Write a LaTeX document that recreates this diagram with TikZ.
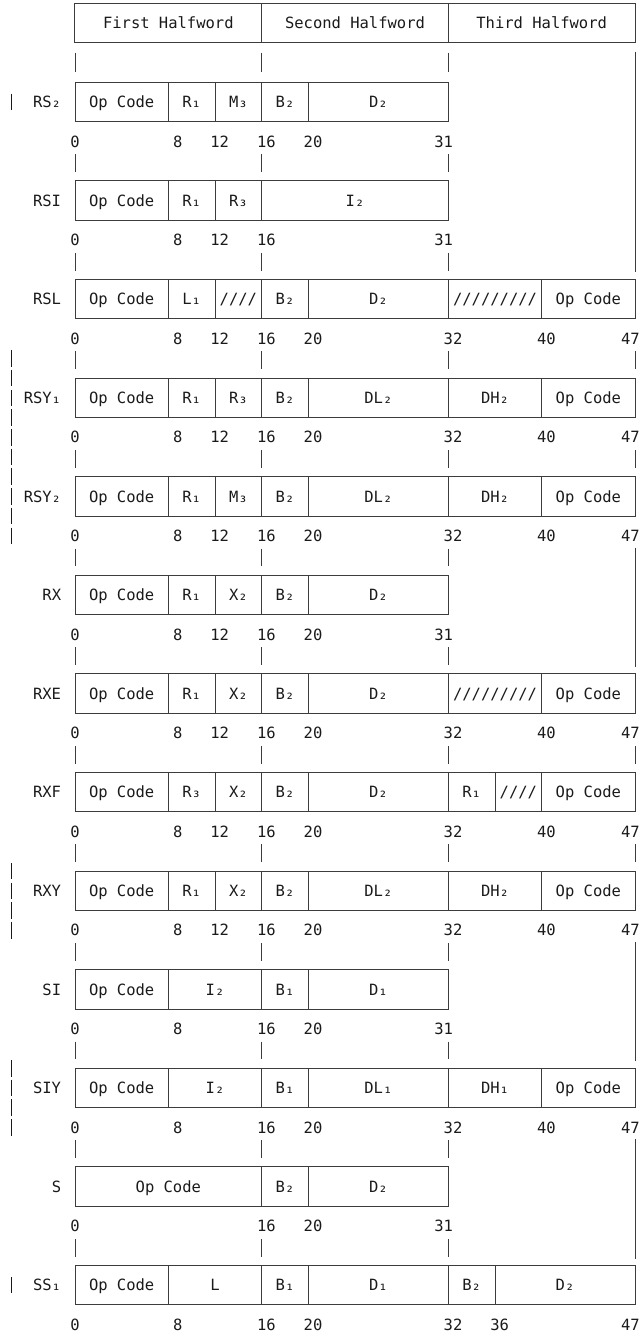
\documentclass[tikz,border=0pt]{standalone}
\usepackage{fontspec}
\setmonofont{DejaVu Sans Mono}
\usetikzlibrary{positioning}
\definecolor{ink}{HTML}{1A1A1A}
\definecolor{rule}{HTML}{3C3C3C}
\tikzset{
  every picture/.style={line width=1pt, font=\fontsize{15.5}{18}\selectfont\ttfamily},
  field/.style={draw=rule, minimum height=39.44pt, inner sep=0pt, text height=11.3pt, text depth=0pt, text=ink},
  rowname/.style={anchor=east, inner sep=0pt, text height=11.3pt, text depth=0pt, text=ink},
  bitno/.style={inner sep=0pt, text height=11.3pt, text depth=0pt, text=ink},
  tick/.style={draw=rule},
  changebar/.style={draw=ink, line width=1.1pt},
}

\begin{document}
\begin{tikzpicture}[x=11.6667pt, y=-19.72pt]
\useasboundingbox (-75pt,3.4pt) rectangle (567pt,-1336.6pt);
% halfword header
\node[field, minimum width=186.67pt] (first) at (8,1) {First Halfword};
\node[field, minimum width=186.67pt] (second) at (24,1) {Second Halfword};
\node[field, minimum width=186.67pt] (third) at (40,1) {Third Halfword};
\foreach \x in {0,16,32} \draw[tick] (\x,2.5) -- (\x,3.5);
% formats: row / name / fields (from/to/text) / bit numbers (pos/text)
\foreach \k/\lab/\fields/\nums in {
  0/RS₂/{0/8/Op Code,8/12/R₁,12/16/M₃,16/20/B₂,20/32/D₂}/{0/0,8.8/8,12.4/12,16.4/16,20.4/20,31.6/31},
  1/RSI/{0/8/Op Code,8/12/R₁,12/16/R₃,16/32/I₂}/{0/0,8.8/8,12.4/12,16.4/16,31.6/31},
  2/RSL/{0/8/Op Code,8/12/L₁,12/16/{////},16/20/B₂,20/32/D₂,32/40/{/////////},40/48/Op Code}/{0/0,8.8/8,12.4/12,16.4/16,20.4/20,32.4/32,40.4/40,47.6/47},
  3/RSY₁/{0/8/Op Code,8/12/R₁,12/16/R₃,16/20/B₂,20/32/DL₂,32/40/DH₂,40/48/Op Code}/{0/0,8.8/8,12.4/12,16.4/16,20.4/20,32.4/32,40.4/40,47.6/47},
  4/RSY₂/{0/8/Op Code,8/12/R₁,12/16/M₃,16/20/B₂,20/32/DL₂,32/40/DH₂,40/48/Op Code}/{0/0,8.8/8,12.4/12,16.4/16,20.4/20,32.4/32,40.4/40,47.6/47},
  5/RX/{0/8/Op Code,8/12/R₁,12/16/X₂,16/20/B₂,20/32/D₂}/{0/0,8.8/8,12.4/12,16.4/16,20.4/20,31.6/31},
  6/RXE/{0/8/Op Code,8/12/R₁,12/16/X₂,16/20/B₂,20/32/D₂,32/40/{/////////},40/48/Op Code}/{0/0,8.8/8,12.4/12,16.4/16,20.4/20,32.4/32,40.4/40,47.6/47},
  7/RXF/{0/8/Op Code,8/12/R₃,12/16/X₂,16/20/B₂,20/32/D₂,32/36/R₁,36/40/{////},40/48/Op Code}/{0/0,8.8/8,12.4/12,16.4/16,20.4/20,32.4/32,40.4/40,47.6/47},
  8/RXY/{0/8/Op Code,8/12/R₁,12/16/X₂,16/20/B₂,20/32/DL₂,32/40/DH₂,40/48/Op Code}/{0/0,8.8/8,12.4/12,16.4/16,20.4/20,32.4/32,40.4/40,47.6/47},
  9/SI/{0/8/Op Code,8/16/I₂,16/20/B₁,20/32/D₁}/{0/0,8.8/8,16.4/16,20.4/20,31.6/31},
  10/SIY/{0/8/Op Code,8/16/I₂,16/20/B₁,20/32/DL₁,32/40/DH₁,40/48/Op Code}/{0/0,8.8/8,16.4/16,20.4/20,32.4/32,40.4/40,47.6/47},
  11/S/{0/16/Op Code,16/20/B₂,20/32/D₂}/{0/0,16.4/16,20.4/20,31.6/31},
  12/SS₁/{0/8/Op Code,8/16/L,16/20/B₁,20/32/D₁,32/36/B₂,36/48/D₂}/{0/0,8.8/8,16.4/16,20.4/20,32.4/32,36.4/36,47.6/47}}{
  \pgfmathsetmacro{\rowy}{5+5*\k}
  \node[rowname] (lab\k) at (-1.15,\rowy) {\lab};
  \foreach \a/\b/\t in \fields
    \node[field, minimum width={(\b-\a)*11.6667pt}] (f\k-\a) at ({(\a+\b)/2},\rowy) {\t};
  \foreach \p/\n in \nums
    \node[bitno] (n\k-\n) at (\p,{\rowy+2}) {\n};
}
% ticks down to the next format
\foreach \k in {0,...,11} \foreach \x in {0,16,32} \draw[tick] (\x,{7.65+5*\k}) -- (\x,{8.55+5*\k});
\foreach \k in {2,3,6,7} \draw[tick] (48,{7.65+5*\k}) -- (48,{8.55+5*\k});
\foreach \s/\e in {2.45/13.62, 27.6/33.65, 47.6/53.65, 57.6/63.65} \draw[tick] (48,\s) -- (48,\e);
% change bars
\foreach \l in {5,18,19,20,21,22,23,24,25,26,27,44,45,46,47,54,55,56,57,65}
  \draw[changebar] (-5.43,{\l-0.42}) -- (-5.43,{\l+0.42});
\end{tikzpicture}
\end{document}
